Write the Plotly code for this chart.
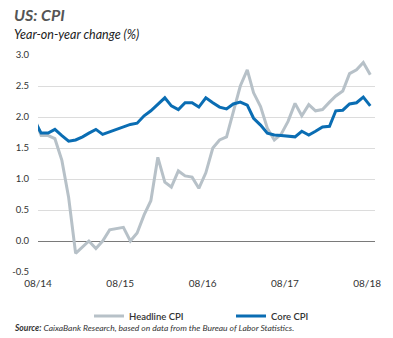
import plotly.graph_objects as go
import pandas as pd

# Monthly observations, Jul 2014 - Aug 2018 (plotted mid-month)
months = pd.date_range("2014-07-01", periods=50, freq="MS") + pd.Timedelta(days=14)

headline_cpi = [2.0, 1.7, 1.7, 1.65, 1.3, 0.7,
                -0.2, -0.1, 0.0, -0.12, 0.0, 0.18, 0.2, 0.22, 0.0, 0.13, 0.42, 0.65,
                1.35, 0.95, 0.87, 1.13, 1.05, 1.03, 0.85, 1.1, 1.5, 1.63, 1.68, 2.08,
                2.5, 2.76, 2.39, 2.17, 1.82, 1.63, 1.72, 1.93, 2.22, 2.02, 2.2, 2.1,
                2.12, 2.24, 2.34, 2.42, 2.7, 2.76, 2.88, 2.68]

core_cpi = [1.95, 1.74, 1.74, 1.8, 1.7, 1.61,
            1.63, 1.68, 1.74, 1.8, 1.72, 1.76, 1.79, 1.83, 1.88, 1.9, 2.02, 2.1,
            2.2, 2.31, 2.18, 2.12, 2.23, 2.23, 2.16, 2.31, 2.23, 2.16, 2.13, 2.21,
            2.24, 2.19, 1.98, 1.87, 1.74, 1.71, 1.7, 1.69, 1.68, 1.77, 1.71, 1.77,
            1.84, 1.85, 2.1, 2.11, 2.21, 2.23, 2.32, 2.18]

x_tick_vals = ["2014-08-01", "2015-08-01", "2016-08-01", "2017-08-01", "2018-08-01"]
x_tick_text = ["08/14", "08/15", "08/16", "08/17", "08/18"]
y_tick_vals = [-0.5, 0.0, 0.5, 1.0, 1.5, 2.0, 2.5, 3.0]
y_tick_text = ["-0.5", "0.0", "0.5", "1.0", "1.5", "2.0", "2.5", "3.0"]

FONT = "Lato"
GRAY = "#b7c1c8"
BLUE = "#0a6db3"
x_range = ["2014-08-01", "2018-09-05"]

fig = go.Figure()
fig.add_trace(go.Scatter(x=months, y=headline_cpi, mode="lines", name="Headline CPI",
                         line=dict(color=GRAY, width=3)))
fig.add_trace(go.Scatter(x=months, y=core_cpi, mode="lines", name="Core CPI",
                         line=dict(color=BLUE, width=3)))

fig.update_layout(
    width=393, height=338,
    margin=dict(l=38, r=18, t=55, b=66, autoexpand=False),
    paper_bgcolor="white", plot_bgcolor="white",
    font=dict(family=FONT, color="#333333", size=10),
    showlegend=True,
    legend=dict(orientation="h", xref="container", yref="container",
                x=89 / 393, xanchor="left", y=1 - 316 / 338, yanchor="middle",
                font=dict(family=FONT, size=9.5, color="#333333", weight=600),
                itemwidth=30, tracegroupgap=0, entrywidth=97, bgcolor="rgba(0,0,0,0)"),
    xaxis=dict(type="date", range=x_range, tickvals=x_tick_vals, ticktext=x_tick_text,
               showgrid=False, zeroline=False, showline=False, ticks="",
               tickfont=dict(size=10, color="#333333"), ticklabelstandoff=4),
    xaxis2=dict(type="date", range=x_range, overlaying="x", anchor="free",
                position=0.5 / 3.5, side="bottom", tickvals=x_tick_vals,
                showticklabels=False, ticks="outside", ticklen=3, tickcolor="#777777",
                showline=False, showgrid=False, zeroline=False),
    yaxis=dict(range=[-0.5, 3.0], tickvals=y_tick_vals, ticktext=y_tick_text,
               showgrid=True, gridcolor="#dcdcdc", gridwidth=1,
               zeroline=True, zerolinecolor="#7a7a7a", zerolinewidth=1,
               showline=False, ticks="", ticklabelstandoff=8,
               tickfont=dict(size=9.5, color="#333333")),
    annotations=[
        dict(text="<b><i>US: CPI</i></b>", xref="paper", yref="paper",
             x=-26 / 337, y=1 + 40 / 217, xanchor="left", yanchor="middle",
             showarrow=False, font=dict(family=FONT, size=16, color="#555555")),
        dict(text="<i>Year-on-year change (%)</i>", xref="paper", yref="paper",
             x=-26 / 337, y=1 + 20 / 217, xanchor="left", yanchor="middle",
             showarrow=False, font=dict(family=FONT, size=12.5, color="#222222")),
        dict(text="<b><i>Source:</i></b><i> CaixaBank Research, based on data from the Bureau of Labor Statistics.</i>",
             xref="paper", yref="paper", x=-26 / 337, y=-56 / 217,
             xanchor="left", yanchor="middle", showarrow=False,
             font=dict(family=FONT, size=8.5, color="#333333")),
    ],
)

fig.write_html("out.html")
